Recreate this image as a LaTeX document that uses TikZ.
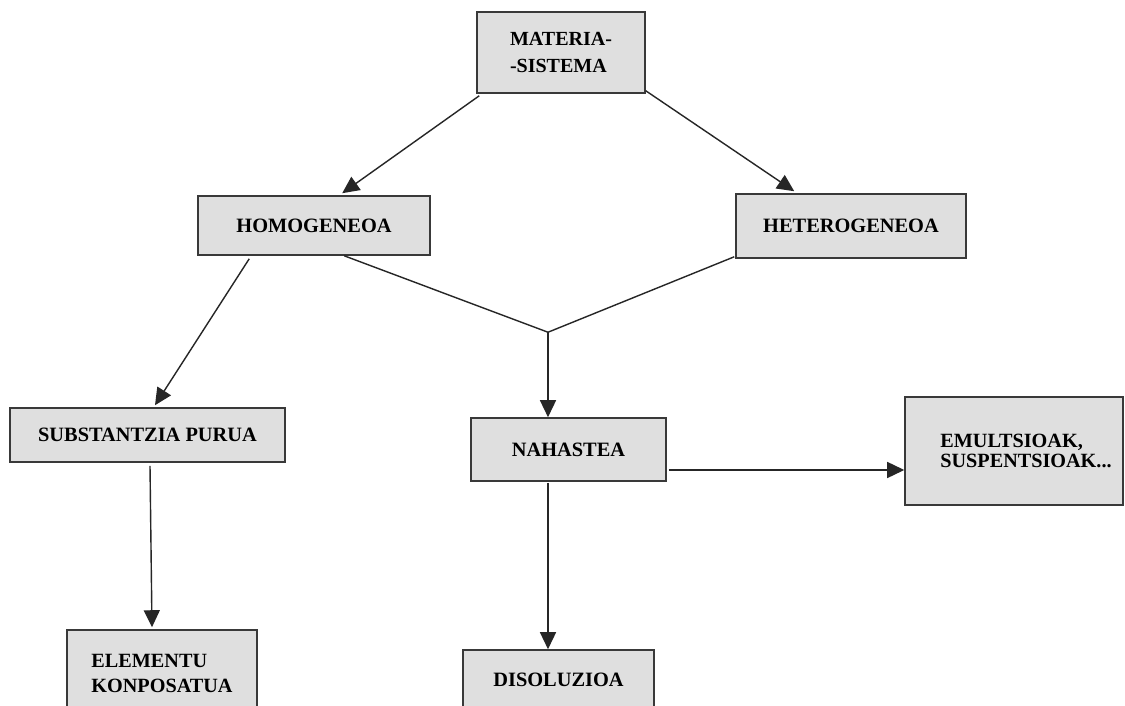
\documentclass[tikz,border=0pt]{standalone}
\usepackage{fontspec}
\setmainfont{Liberation Serif}
\usetikzlibrary{arrows.meta,calc}
\begin{document}
\begin{tikzpicture}[x=0.02cm,y=-0.02cm,
  box/.style={draw=gray!45!black,line width=0.9pt,fill=gray!25,rectangle,inner sep=0pt,align=left,
    font=\fontsize{11.6}{14}\selectfont\bfseries},
  arr/.style={draw=black!85,line width=0.8pt,-{Triangle[length=0.34cm,width=0.32cm]}},
  ln/.style={draw=black!85,line width=0.8pt}]
\useasboundingbox (0,0) rectangle (1125,706);
\clip (0,0) rectangle (1125,706);
\fill[white] (0,0) rectangle (1125,706);
\node[box,minimum width=3.36cm,minimum height=1.62cm,font=\fontsize{11.4}{15.3}\selectfont\bfseries] (mat) at (561,52.5) {MATERIA-\\-SISTEMA};
\node[box,minimum width=4.64cm,minimum height=1.18cm] (hom) at (314,225.5) {HOMOGENEOA};
\node[box,minimum width=4.6cm,minimum height=1.28cm] (het) at (851,226) {HETEROGENEOA};
\node[box,minimum width=5.5cm,minimum height=1.08cm] (sub) at (147.5,435) {SUBSTANTZIA PURUA};
\node[box,minimum width=3.9cm,minimum height=1.26cm] (nah) at (568.5,449.5) {NAHASTEA};
\node[box,minimum width=4.36cm,minimum height=2.16cm,font=\fontsize{11.5}{11.5}\selectfont\bfseries] (emu) at (1014,451) {\hspace*{0.48cm}EMULTSIOAK,\\\hspace*{0.48cm}SUSPENTSIOAK...};
\node[box,minimum width=3.8cm,minimum height=1.72cm,font=\fontsize{11.5}{14.2}\selectfont\bfseries] (ele) at (162,673) {ELEMENTU\\KONPOSATUA};
\node[box,minimum width=3.82cm,minimum height=1.2cm] (dis) at (558.5,680) {DISOLUZIOA};
\coordinate (j) at ([xshift=-0.41cm,yshift=1.7cm]nah.north);
\coordinate (nb) at ([xshift=-0.41cm,yshift=-0.02cm]nah.south);
\coordinate (ne) at ([xshift=0.04cm,yshift=-0.41cm]nah.east);
\draw[arr] ([xshift=0.06cm,yshift=-0.04cm]mat.south west) -- ([xshift=2.9cm,yshift=0.04cm]hom.north west);
\draw[arr] ([yshift=0.06cm]mat.south east) -- ([xshift=1.18cm,yshift=0.04cm]het.north west);
\draw[arr] ([xshift=1.04cm,yshift=-0.06cm]hom.south west) -- ([xshift=0.15cm,yshift=0.04cm]sub.north);
\draw[ln] ([xshift=2.94cm]hom.south west) -- (j);
\draw[ln] ([xshift=-0.02cm,yshift=0.04cm]het.south west) -- (j);
\draw[arr] (j) -- (nah.north -| j);
\draw[arr] ([xshift=0.05cm,yshift=-0.06cm]sub.south) -- ([xshift=-0.2cm,yshift=0.04cm]ele.north);
\draw[arr] (ne) -- (ne -| emu.west);
\draw[arr] (nb) -- (nb |- dis.north);
\end{tikzpicture}
\end{document}
